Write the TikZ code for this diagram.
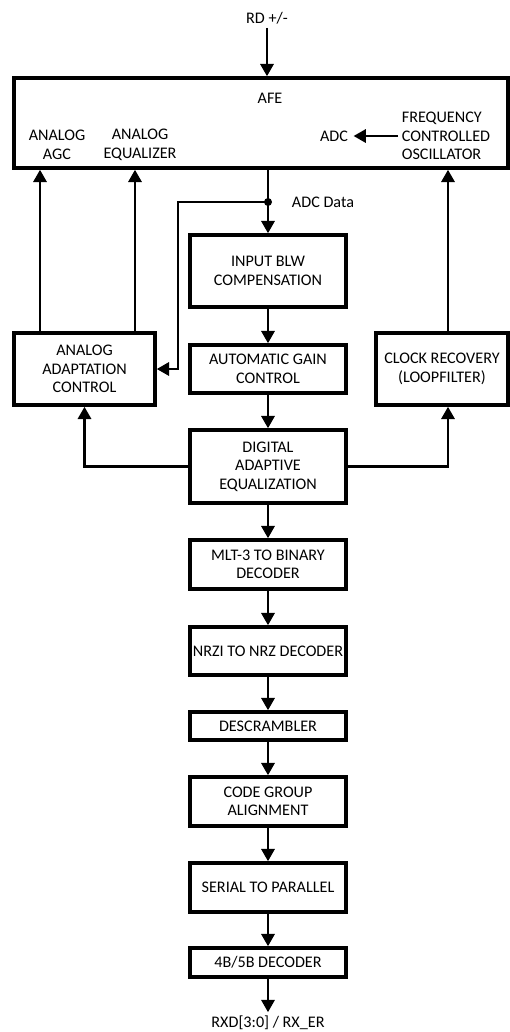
\documentclass[tikz,border=0pt]{standalone}
\usepackage{fontspec}
\setmainfont{Carlito}
\usetikzlibrary{arrows.meta}
\usetikzlibrary{shapes}

\begin{document}
\begin{tikzpicture}[x = 0.02cm, y = -0.02cm]
\tikzstyle{BlockStyle}=[shape = rectangle,
                        draw,
                        line width = 2pt,
                        align = center,
                        inner sep = 1pt,
                        font = \fontsize{9.2}{10.5}\selectfont]
\tikzstyle{TextStyle}=[align = center,
                       inner sep = 2pt,
                       font = \fontsize{9.2}{10.5}\selectfont]
\tikzstyle{Link}=[line width = 1.5pt,
                  -{Triangle[length = 7pt, width = 7.5pt]}]
\useasboundingbox (0,0) rectangle (510,1032);
% outer labels
\node[TextStyle] (rd) at (267, 18) {RD +/-};
\node[TextStyle] (rxd) at (268, 1023) {RXD[3:0] / RX\_ER};
% analog front end
\node[BlockStyle, minimum width = 9.88cm, minimum height = 1.8cm] (afe) at (261, 123) {};
\node[TextStyle] (afelbl) at (270, 98) {AFE};
\node[TextStyle] (agclbl) at (57, 145) {ANALOG\\AGC};
\node[TextStyle] (eqlbl) at (140, 145) {ANALOG\\EQUALIZER};
\node[TextStyle] (adclbl) at (334, 136) {ADC};
\node[TextStyle, align = left, anchor = west] (fcolbl) at (398, 136) {FREQUENCY\\CONTROLLED\\OSCILLATOR};
% blocks
\node[BlockStyle, minimum width = 3.12cm, minimum height = 1.44cm] (blw) at (268, 271) {INPUT BLW\\COMPENSATION};
\node[BlockStyle, minimum width = 3.12cm, minimum height = 0.96cm] (agc) at (268, 369) {AUTOMATIC GAIN\\CONTROL};
\node[BlockStyle, minimum width = 2.82cm, minimum height = 1.44cm] (aac) at (84.5, 369) {ANALOG\\ADAPTATION\\CONTROL};
\node[BlockStyle, minimum width = 2.64cm, minimum height = 1.44cm] (clk) at (442, 369) {CLOCK RECOVERY\\(LOOPFILTER)};
\node[BlockStyle, minimum width = 3.12cm, minimum height = 1.46cm] (dae) at (268, 466.5) {DIGITAL\\ADAPTIVE\\EQUALIZATION};
\node[BlockStyle, minimum width = 3.12cm, minimum height = 0.98cm] (mlt) at (268, 564.5) {MLT-3 TO BINARY\\DECODER};
\node[BlockStyle, minimum width = 3.12cm, minimum height = 0.96cm] (nrzi) at (268, 651) {NRZI TO NRZ DECODER};
\node[BlockStyle, minimum width = 3.12cm, minimum height = 0.56cm] (desc) at (268, 726) {DESCRAMBLER};
\node[BlockStyle, minimum width = 3.12cm, minimum height = 0.98cm] (cga) at (268, 801.5) {CODE GROUP\\ALIGNMENT};
\node[BlockStyle, minimum width = 3.12cm, minimum height = 0.98cm] (s2p) at (268, 887.5) {SERIAL TO PARALLEL};
\node[BlockStyle, minimum width = 3.12cm, minimum height = 0.58cm] (dec) at (268, 962.5) {4B/5B DECODER};
% adc data tap
\coordinate (tap) at (268, 202);
\coordinate (bend) at (178, 202);
\node[TextStyle] (adcdata) at (323, 202) {ADC Data};
\fill (tap) circle (4);
% connectors
\draw[Link] (rd) -- (rd |- afe.north);
\draw[Link, shorten >= 1pt] (fcolbl.west) -- (adclbl.east);
\draw[Link] (blw.north |- afe.south) -- (blw.north);
\draw[Link] (tap) -- (bend) |- (aac.east);
\draw[Link] ([xshift = -0.89cm]aac.north) -- ([xshift = -0.89cm]aac.north |- afe.south);
\draw[Link] ([xshift = 1.01cm]aac.north) -- ([xshift = 1.01cm]aac.north |- afe.south);
\draw[Link] ([xshift = 0.12cm]clk.north) -- ([xshift = 0.12cm]clk.north |- afe.south);
\draw[Link] (blw) -- (agc);
\draw[Link] (agc) -- (dae);
\draw[Link] (dae.west) -| (aac.south);
\draw[Link] (dae.east) -| ([xshift = 0.12cm]clk.south);
\draw[Link] (dae) -- (mlt);
\draw[Link] (mlt) -- (nrzi);
\draw[Link] (nrzi) -- (desc);
\draw[Link] (desc) -- (cga);
\draw[Link] (cga) -- (s2p);
\draw[Link] (s2p) -- (dec);
\draw[Link] (dec) -- (rxd);
\end{tikzpicture}
\end{document}
